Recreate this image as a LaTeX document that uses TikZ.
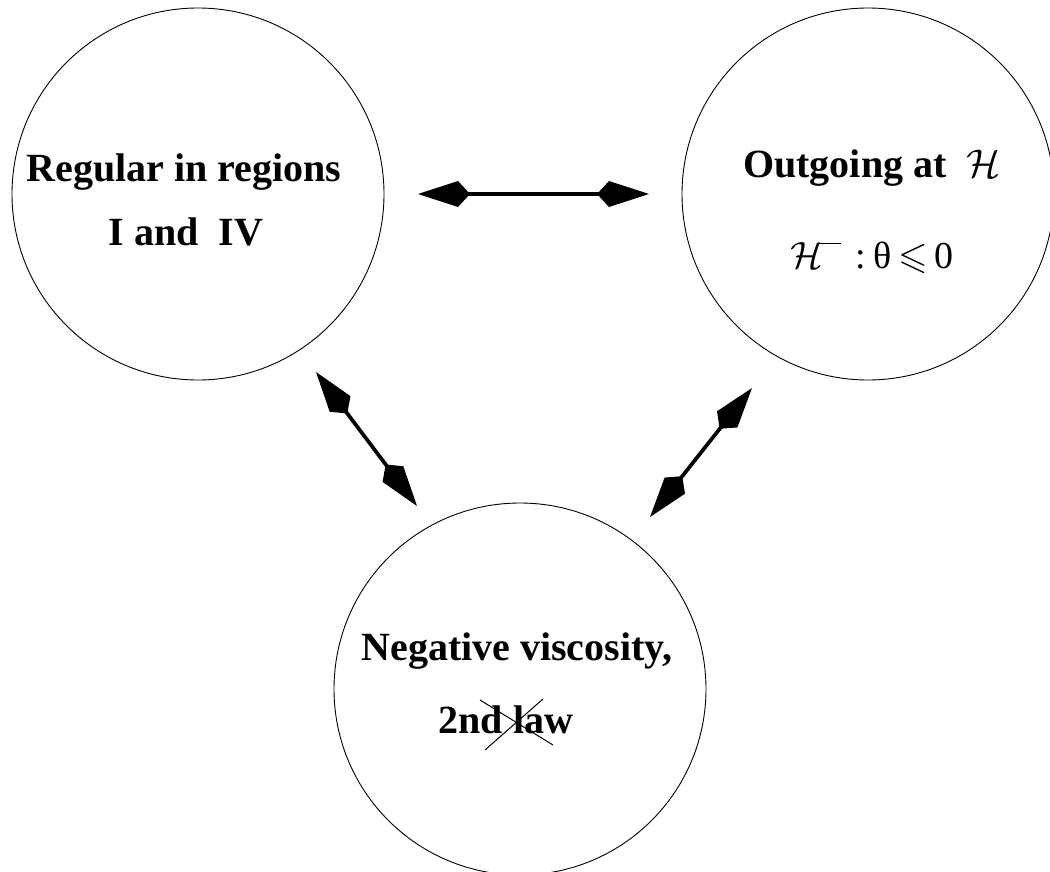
\RequirePackage{fix-cm}
\documentclass[tikz,border=0pt]{standalone}
\usepackage{amssymb}
\usepackage{fontspec}
\setmainfont{Liberation Serif}
\usetikzlibrary{arrows.meta}
\tikzset{
  bubble/.style={draw, line width=0.9pt, circle, minimum size=372pt, inner sep=0pt},
  lbl/.style={font=\fontsize{40}{44}\selectfont\bfseries, inner sep=0pt, anchor=base},
  mlbl/.style={font=\fontsize{38}{42}\selectfont, inner sep=0pt, anchor=base},
  dbl/.style={line width=3.7pt, {Kite[length=52pt,width=26pt,inset=12pt]}-{Kite[length=52pt,width=26pt,inset=12pt]}},
  cross/.style={line width=1pt}
}
\begin{document}
\begin{tikzpicture}[x=1pt,y=-1pt]
\useasboundingbox (0,0) rectangle (1050,872);
\node[bubble] (A) at (198,194) {};
\node[bubble] (B) at (868,194) {};
\node[bubble] (C) at (520,689) {};
\node[lbl] (a1) at (184,182) {Regular in regions};
\node[lbl] (a2) at (186,245) {I and \ IV};
\node[lbl] (b1) at (872,178) {Outgoing at \ \mdseries$\mathcal{H}$};
\node[mlbl] (b2) at (872,268) {$\mathcal{H}$\kern-6pt\raisebox{24pt}{\rule{24pt}{1.4pt}}\hspace{14pt}:\hspace{8pt}θ\hspace{7pt}$\leqslant$\hspace{6pt}0};
\node[lbl] (c1) at (517,660) {Negative viscosity,};
\node[lbl] (c2) at (506,733) {2nd law};
\draw[cross] (480,700) -- (553,745);
\draw[cross] (543,699) -- (485,750);
\coordinate (h1) at (418,194);
\coordinate (h2) at (649,194);
\coordinate (l1) at (316,372);
\coordinate (l2) at (417,506);
\coordinate (r1) at (752,388);
\coordinate (r2) at (650,517);
\draw[dbl] (h1) -- (h2);
\draw[dbl] (l1) -- (l2);
\draw[dbl] (r1) -- (r2);
\end{tikzpicture}
\end{document}
